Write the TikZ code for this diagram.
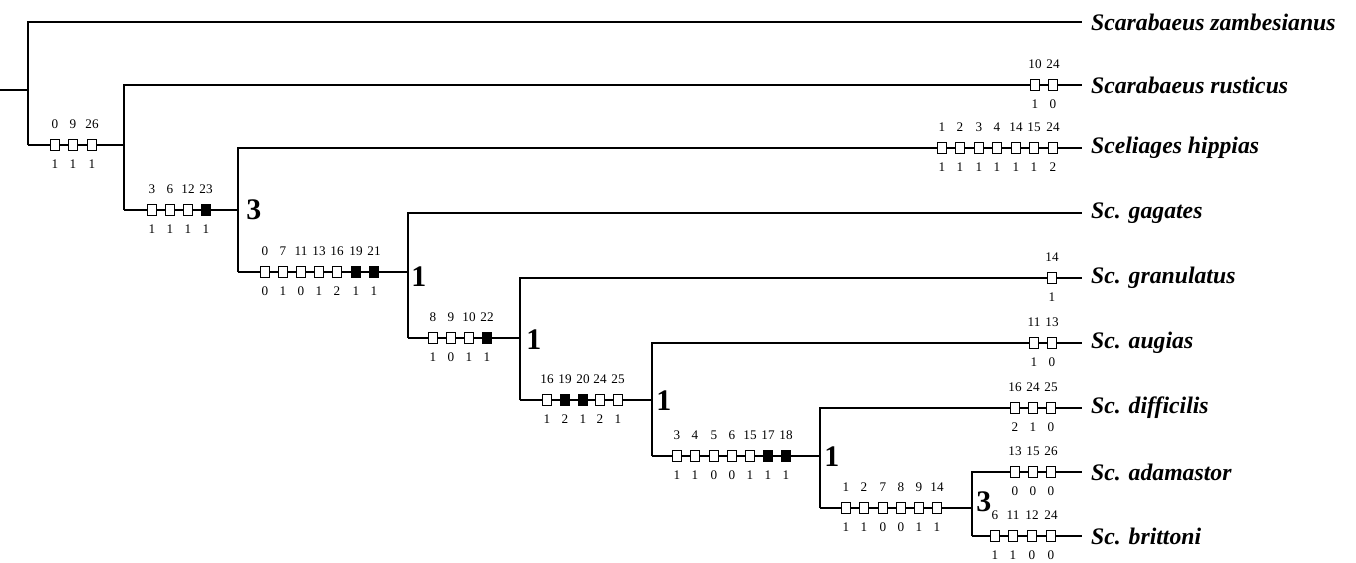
\documentclass[tikz,border=0pt]{standalone}
\usepackage{fontspec}
\setmainfont{Liberation Serif}
\usetikzlibrary{positioning}
\tikzset{
  branch/.style = {draw=black, line width=0.9pt},
  chro/.style   = {draw=black, fill=white, line width=0.75pt, minimum width=5pt, minimum height=6.2pt, inner sep=0pt},
  chrf/.style   = {chro, fill=black},
  chrid/.style  = {font=\fontsize{7.5}{8}\selectfont, inner sep=0pt},
  taxon/.style  = {font=\fontsize{13.5}{15}\selectfont\bfseries\itshape, anchor=west, inner ysep=2pt, inner xsep=5pt},
  supp/.style   = {font=\fontsize{17}{18}\selectfont\bfseries, anchor=west, inner sep=0pt},
}

\begin{document}
\begin{tikzpicture}[x=0.02cm,y=-0.02cm]
  \useasboundingbox (0,0) rectangle (1356,562);

  % terminal taxa
  \foreach \t/\n/\y in {zam/{Scarabaeus zambesianus}/22, rus/{Scarabaeus rusticus}/85,
    hip/{Sceliages hippias}/148, gag/{Sc. gagates}/213, gra/{Sc. granulatus}/278,
    aug/{Sc. augias}/343, dif/{Sc. difficilis}/408, ada/{Sc. adamastor}/472, bri/{Sc. brittoni}/536} {
    \node[taxon] (\t) at (1082,\y) {\n};
  }

  % internal nodes, foot of each vertical
  \foreach \i/\x/\y in {0/28/145, 1/124/210, 2/238/272, 3/408/338, 4/520/400, 5/652/456, 6/820/508, 7/972/536} {
    \coordinate (n\i) at (\x,\y);
  }
  \coordinate (stem) at (0,90);

  % branches
  \draw[branch] (stem) -- (stem -| n0);
  \draw[branch] (n0) |- (zam.west);
  \foreach \i/\j/\t in {0/1/rus, 1/2/hip, 2/3/gag, 3/4/gra, 4/5/aug, 5/6/dif, 6/7/ada} {
    \draw[branch] (n\i) -- (n\i -| n\j);
    \draw[branch] (n\j) |- (\t.west);
  }
  \draw[branch] (n7) -- (bri.west);

  % character changes: character / state / kind / x
  \foreach \b/\y/\chars in {
    a/145/{0/1/chro/55, 9/1/chro/73, 26/1/chro/92},
    rus/85/{10/1/chro/1035, 24/0/chro/1053},
    b/210/{3/1/chro/152, 6/1/chro/170, 12/1/chro/188, 23/1/chrf/206},
    hip/148/{1/1/chro/942, 2/1/chro/960, 3/1/chro/979, 4/1/chro/997, 14/1/chro/1016, 15/1/chro/1034, 24/2/chro/1053},
    c/272/{0/0/chro/265, 7/1/chro/283, 11/0/chro/301, 13/1/chro/319, 16/2/chro/337, 19/1/chrf/356, 21/1/chrf/374},
    d/338/{8/1/chro/433, 9/0/chro/451, 10/1/chro/469, 22/1/chrf/487},
    gra/278/{14/1/chro/1052},
    e/400/{16/1/chro/547, 19/2/chrf/565, 20/1/chrf/583, 24/2/chro/600, 25/1/chro/618},
    aug/343/{11/1/chro/1034, 13/0/chro/1052},
    f/456/{3/1/chro/677, 4/1/chro/695, 5/0/chro/714, 6/0/chro/732, 15/1/chro/750, 17/1/chrf/768, 18/1/chrf/786},
    dif/408/{16/2/chro/1015, 24/1/chro/1033, 25/0/chro/1051},
    g/508/{1/1/chro/846, 2/1/chro/864, 7/0/chro/883, 8/0/chro/901, 9/1/chro/919, 14/1/chro/937},
    ada/472/{13/0/chro/1015, 15/0/chro/1033, 26/0/chro/1051},
    bri/536/{6/1/chro/995, 11/1/chro/1013, 12/0/chro/1032, 24/0/chro/1051}}
  {
    \foreach \c/\s/\k/\x in \chars {
      \node[\k] (\b\c) at (\x,\y) {};
      \node[chrid, above=5.7pt of \b\c] (\b\c i) {\c};
      \node[chrid, below=4.6pt of \b\c] (\b\c s) {\s};
    }
  }

  % support values
  \node[supp] (s1) at (246,210) {3};
  \node[supp] (s2) at (411,277) {1};
  \node[supp] (s3) at (526,340) {1};
  \node[supp] (s4) at (656,401) {1};
  \node[supp] (s5) at (824,457) {1};
  \node[supp] (s6) at (976,502) {3};
\end{tikzpicture}
\end{document}
